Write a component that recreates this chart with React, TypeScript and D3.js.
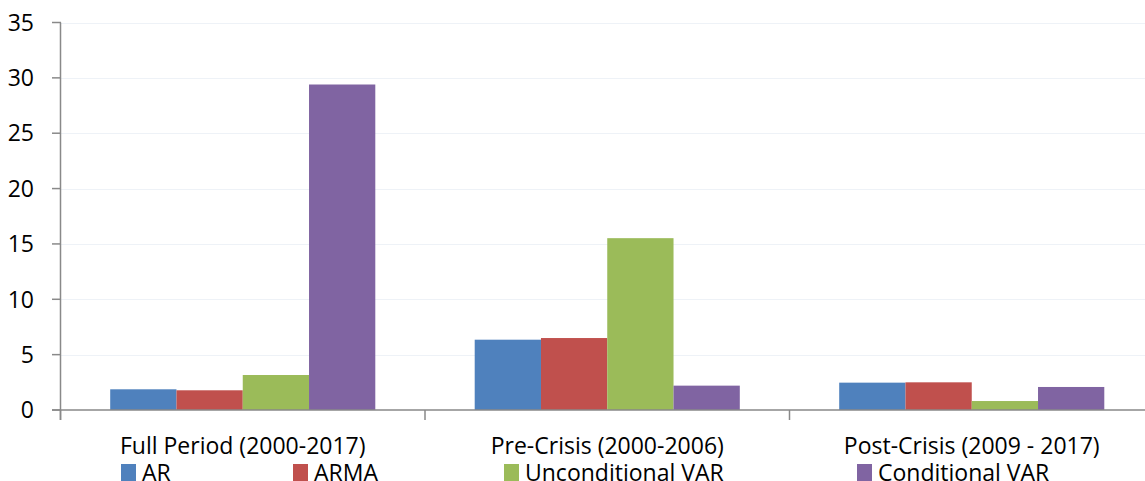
import React, { useEffect, useRef } from 'react';
import * as d3 from 'd3';

const categories = ['Full Period (2000-2017)', 'Pre-Crisis (2000-2006)', 'Post-Crisis (2009 - 2017)'];
const seriesNames = ['AR', 'ARMA', 'Unconditional VAR', 'Conditional VAR'];
const seriesColors = ['#4f81bd', '#c0504d', '#9bbb59', '#8064a2'];
const arValues = [1.87, 6.35, 2.47];
const armaValues = [1.78, 6.5, 2.5];
const uvarValues = [3.16, 15.52, 0.81];
const cvarValues = [29.4, 2.2, 2.08];
const yTicks = [0, 5, 10, 15, 20, 25, 30, 35];

const W = 1145;
const H = 481;
const legendX = [121, 293, 504, 857];

const App = () => {
  const ref = useRef<SVGSVGElement>(null);

  useEffect(() => {
    const svg = d3.select(ref.current);
    svg.selectAll('*').remove();
    const font = '"Open Sans", Calibri, sans-serif';
    const fs = 23;
    const values = [arValues, armaValues, uvarValues, cvarValues];

    const x = d3.scaleBand().domain(categories).range([60.5, 1154]).paddingInner(0).paddingOuter(0);
    const xs = d3.scaleBand().domain(seriesNames).range([0, x.bandwidth()]).paddingInner(0).paddingOuter(0.75);
    const y = d3.scaleLinear().domain([0, 35]).range([410, 22.5]);

    // gridlines
    svg.append('g')
      .selectAll('line')
      .data(yTicks.slice(1))
      .join('line')
      .attr('x1', 61).attr('x2', W)
      .attr('y1', d => Math.round(y(d)) + 0.5).attr('y2', d => Math.round(y(d)) + 0.5)
      .attr('stroke', '#eef2f7').attr('stroke-width', 1);

    // bars
    seriesNames.forEach((s, si) => {
      svg.append('g')
        .selectAll('rect')
        .data(categories)
        .join('rect')
        .attr('x', (c) => (x(c) as number) + (xs(s) as number))
        .attr('width', xs.bandwidth())
        .attr('y', (c, i) => y(values[si][i]))
        .attr('height', (c, i) => y(0) - y(values[si][i]))
        .attr('fill', seriesColors[si]);
    });

    const axisColor = '#898989';
    // y axis
    svg.append('line').attr('x1', 60.5).attr('x2', 60.5).attr('y1', y(35)).attr('y2', 420)
      .attr('stroke', axisColor).attr('stroke-width', 1.5);
    svg.append('g').selectAll('line').data(yTicks).join('line')
      .attr('x1', 52).attr('x2', 61)
      .attr('y1', d => y(d)).attr('y2', d => y(d))
      .attr('stroke', axisColor).attr('stroke-width', 1.5);
    svg.append('g').selectAll('text').data(yTicks).join('text')
      .attr('x', 34).attr('y', d => y(d)).attr('dy', '0.36em')
      .attr('text-anchor', 'end')
      .attr('font-family', font).attr('font-size', fs).attr('fill', '#000')
      .text(d => d);

    // x axis
    svg.append('line').attr('x1', 52).attr('x2', W).attr('y1', y(0)).attr('y2', y(0))
      .attr('stroke', axisColor).attr('stroke-width', 1.5);
    const bounds = categories.map(c => x(c) as number).concat([x.range()[1]]);
    svg.append('g').selectAll('line').data(bounds).join('line')
      .attr('x1', d => d).attr('x2', d => d)
      .attr('y1', y(0)).attr('y2', 420)
      .attr('stroke', axisColor).attr('stroke-width', 1.5);
    svg.append('g').selectAll('text').data(categories).join('text')
      .attr('x', c => (x(c) as number) + x.bandwidth() / 2)
      .attr('y', 454)
      .attr('text-anchor', 'middle')
      .attr('font-family', font).attr('font-size', fs).attr('fill', '#000')
      .text(c => c);

    // legend (cut off by the bottom edge, as in the source)
    const leg = svg.append('g').selectAll('g').data(seriesNames).join('g')
      .attr('transform', (d, i) => `translate(${legendX[i]},0)`);
    leg.append('rect').attr('x', 0).attr('y', 464).attr('width', 15).attr('height', 17)
      .attr('fill', (d, i) => seriesColors[i]);
    leg.append('text').attr('x', 21).attr('y', 480.5)
      .attr('font-family', font).attr('font-size', fs).attr('fill', '#000')
      .text(d => d);
  }, []);

  return (
    <svg ref={ref} width={W} height={H}
      style={{ position: 'absolute', left: 0, top: 0, background: '#fff' }} />
  );
};

export default App;
